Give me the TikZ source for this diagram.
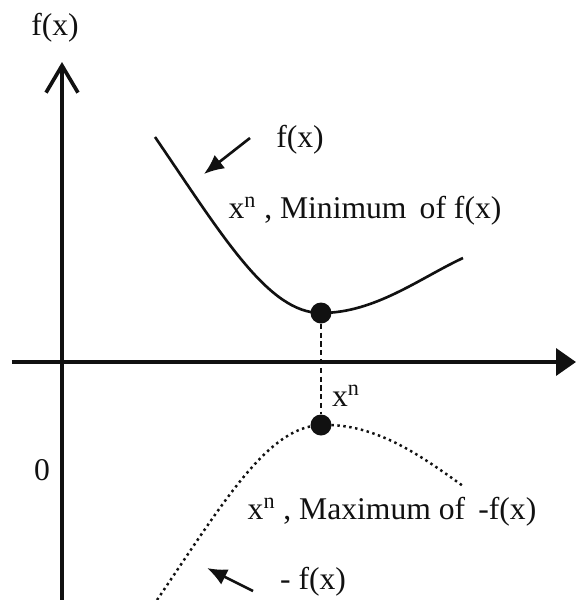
\documentclass[tikz,border=0pt]{standalone}
\usepackage{fontspec}
\setmainfont{Liberation Serif}
\usetikzlibrary{arrows.meta,positioning}
\definecolor{inkblack}{HTML}{111111}
\tikzset{
  axis/.style={line width=2.1pt, draw=inkblack},
  curv/.style={line width=1.5pt, draw=inkblack},
  dotcurv/.style={line width=1.4pt, draw=inkblack, dotted},
  pt/.style={circle, fill=inkblack, minimum size=0.42cm, inner sep=0pt},
  ar/.style={-{Latex[length=4mm,width=3.4mm]}, line width=1.5pt, draw=inkblack},
  lbl/.style={font=\fontsize{18}{20}\selectfont, text=inkblack, inner sep=1pt},
}
\begin{document}
\begin{tikzpicture}[x=0.02cm, y=-0.02cm]
    \useasboundingbox (0,0) rectangle (576,600);
    % axes
    \coordinate (ybot) at (62,600);
    \coordinate (ytop) at (62,62);
    \coordinate (xleft) at (12,362);
    \coordinate (xright) at (576,362);
    \draw[axis, -{Straight Barb[length=5.4mm,width=6.4mm,line width=2.1pt]}] (ybot) -- (ytop);
    \draw[axis, -{Triangle[length=4mm,width=5.4mm]}] (xleft) -- (xright);
    \node[lbl] (yname) at (55,28) {f(x)};
    \node[lbl] (zero) at (42,470) {0};
    % extreme points
    \node[pt] (minpt) at (321,313) {};
    \node[pt] (maxpt) at (321,425) {};
    \draw[densely dashed, line width=1.2pt, draw=inkblack] (minpt) -- (maxpt);
    \node[lbl] (xn) at (346,396) {x\textsuperscript{n}};
    % f(x) and -f(x)
    \coordinate (fa) at (155,137);
    \coordinate (fb) at (463,258);
    \draw[curv] (fa) .. controls (222,235) and (268,313) .. (minpt.center)
                     .. controls (375,313) and (420,278) .. (fb);
    \coordinate (ga) at (157,600);
    \coordinate (gb) at (463,486);
    \draw[dotcurv] (ga) .. controls (225,500) and (268,427) .. (maxpt.center)
                        .. controls (375,423) and (420,455) .. (gb);
    % labels
    \node[lbl] (ftop) at (300,140) {f(x)};
    \coordinate (ffrom) at (250,138);
    \coordinate (fto) at (204,174);
    \draw[ar] (ffrom) -- (fto);
    \node[lbl] (minlbl) at (365,211) {x\textsuperscript{n} , Minimum\, of f(x)};
    \node[lbl] (maxlbl) at (392,512) {x\textsuperscript{n} , Maximum of \,-f(x)};
    \node[lbl] (fbot) at (313,582) {- f(x)};
    \coordinate (gfrom) at (253,591);
    \coordinate (gto) at (207,568);
    \draw[ar] (gfrom) -- (gto);
\end{tikzpicture}
\end{document}
